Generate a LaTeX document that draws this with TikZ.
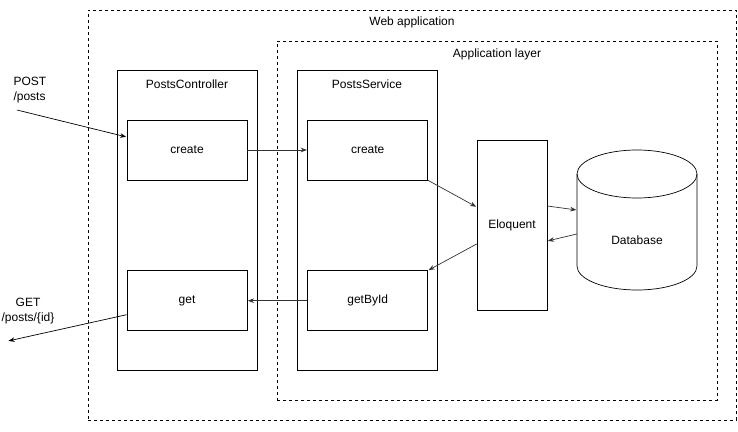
\documentclass[tikz,border=0pt]{standalone}
\usepackage{fontspec}
\setmainfont{Liberation Sans}
\usetikzlibrary{arrows.meta,positioning}

\begin{document}
\begin{tikzpicture}[
    x=1pt, y=-1pt,
    >=Stealth,              % arrow tip style
    font=\fontsize{12}{15}\selectfont,
    frame/.style={draw, dash pattern=on 3pt off 3pt, line width=0.7pt},
    column/.style={draw, line width=0.7pt, minimum width=140pt, minimum height=300pt},
    method/.style={draw, line width=0.7pt, minimum width=120pt, minimum height=60pt},
    flow/.style={->, draw=black!80, line width=0.7pt, shorten >=0.5pt}]
    \useasboundingbox (0,0) rectangle (738,431);

    % Frames
    \node[frame, minimum width=648pt, minimum height=410pt] (web) at (412,215) {};
    \node (webTitle) at (412,22) {Web application};
    \node[frame, minimum width=440pt, minimum height=359pt] (app) at (497,220.5) {};
    \node (appTitle) at (497,54) {Application layer};

    % Columns
    \node[column] (ctl) at (187,220) {};
    \node (ctlTitle) at (187,84) {PostsController};
    \node[column] (svc) at (367,220) {};
    \node (svcTitle) at (367,84) {PostsService};

    % Methods
    \node[method] (ctlCreate) at (187,150) {create};
    \node[method] (ctlGet) [below=90pt of ctlCreate] {get};
    \node[method] (svcCreate) [right=60pt of ctlCreate] {create};
    \node[method] (svcGet) [right=60pt of ctlGet] {getById};

    % Data access
    \node[draw, line width=0.7pt, minimum width=70pt, minimum height=170pt] (eloq) at (512,225) {Eloquent};
    \node[minimum width=120pt, minimum height=140pt] (db) at (637,220) {};
    \draw[line width=0.7pt] (637,174) ellipse [x radius=60pt, y radius=24pt];
    \draw[line width=0.7pt] (577,174) -- (577,266)
        arc [start angle=180, end angle=360, x radius=60pt, y radius=24pt] -- (697,174);
    \node at (637,240) {Database};

    % Requests
    \node[align=left, anchor=west] (postLbl) at (10,90) {POST\\/posts};
    \coordinate (postIn) at (17,110);
    \node[align=center] (getLbl) at (28,311) {GET\\/posts/\{id\}};
    \coordinate (getOut) at (8,341);

    % Calls
    \draw[flow, draw=black] (postIn) -- ([yshift=13pt]ctlCreate.west);
    \draw[flow] (ctlCreate) -- (svcCreate);
    \draw[flow] (svcCreate.south east) -- ([yshift=18pt]eloq.west);
    \draw[flow] ([yshift=19pt]eloq.east) -- ([yshift=10pt]db.west);
    \draw[flow] ([yshift=-14pt]db.west) -- ([yshift=-16pt]eloq.east);
    \draw[flow] ([yshift=-19pt]eloq.west) -- (svcGet.north east);
    \draw[flow] (svcGet) -- (ctlGet);
    \draw[flow, draw=black] ([yshift=-14pt]ctlGet.west) -- (getOut);
\end{tikzpicture}
\end{document}
